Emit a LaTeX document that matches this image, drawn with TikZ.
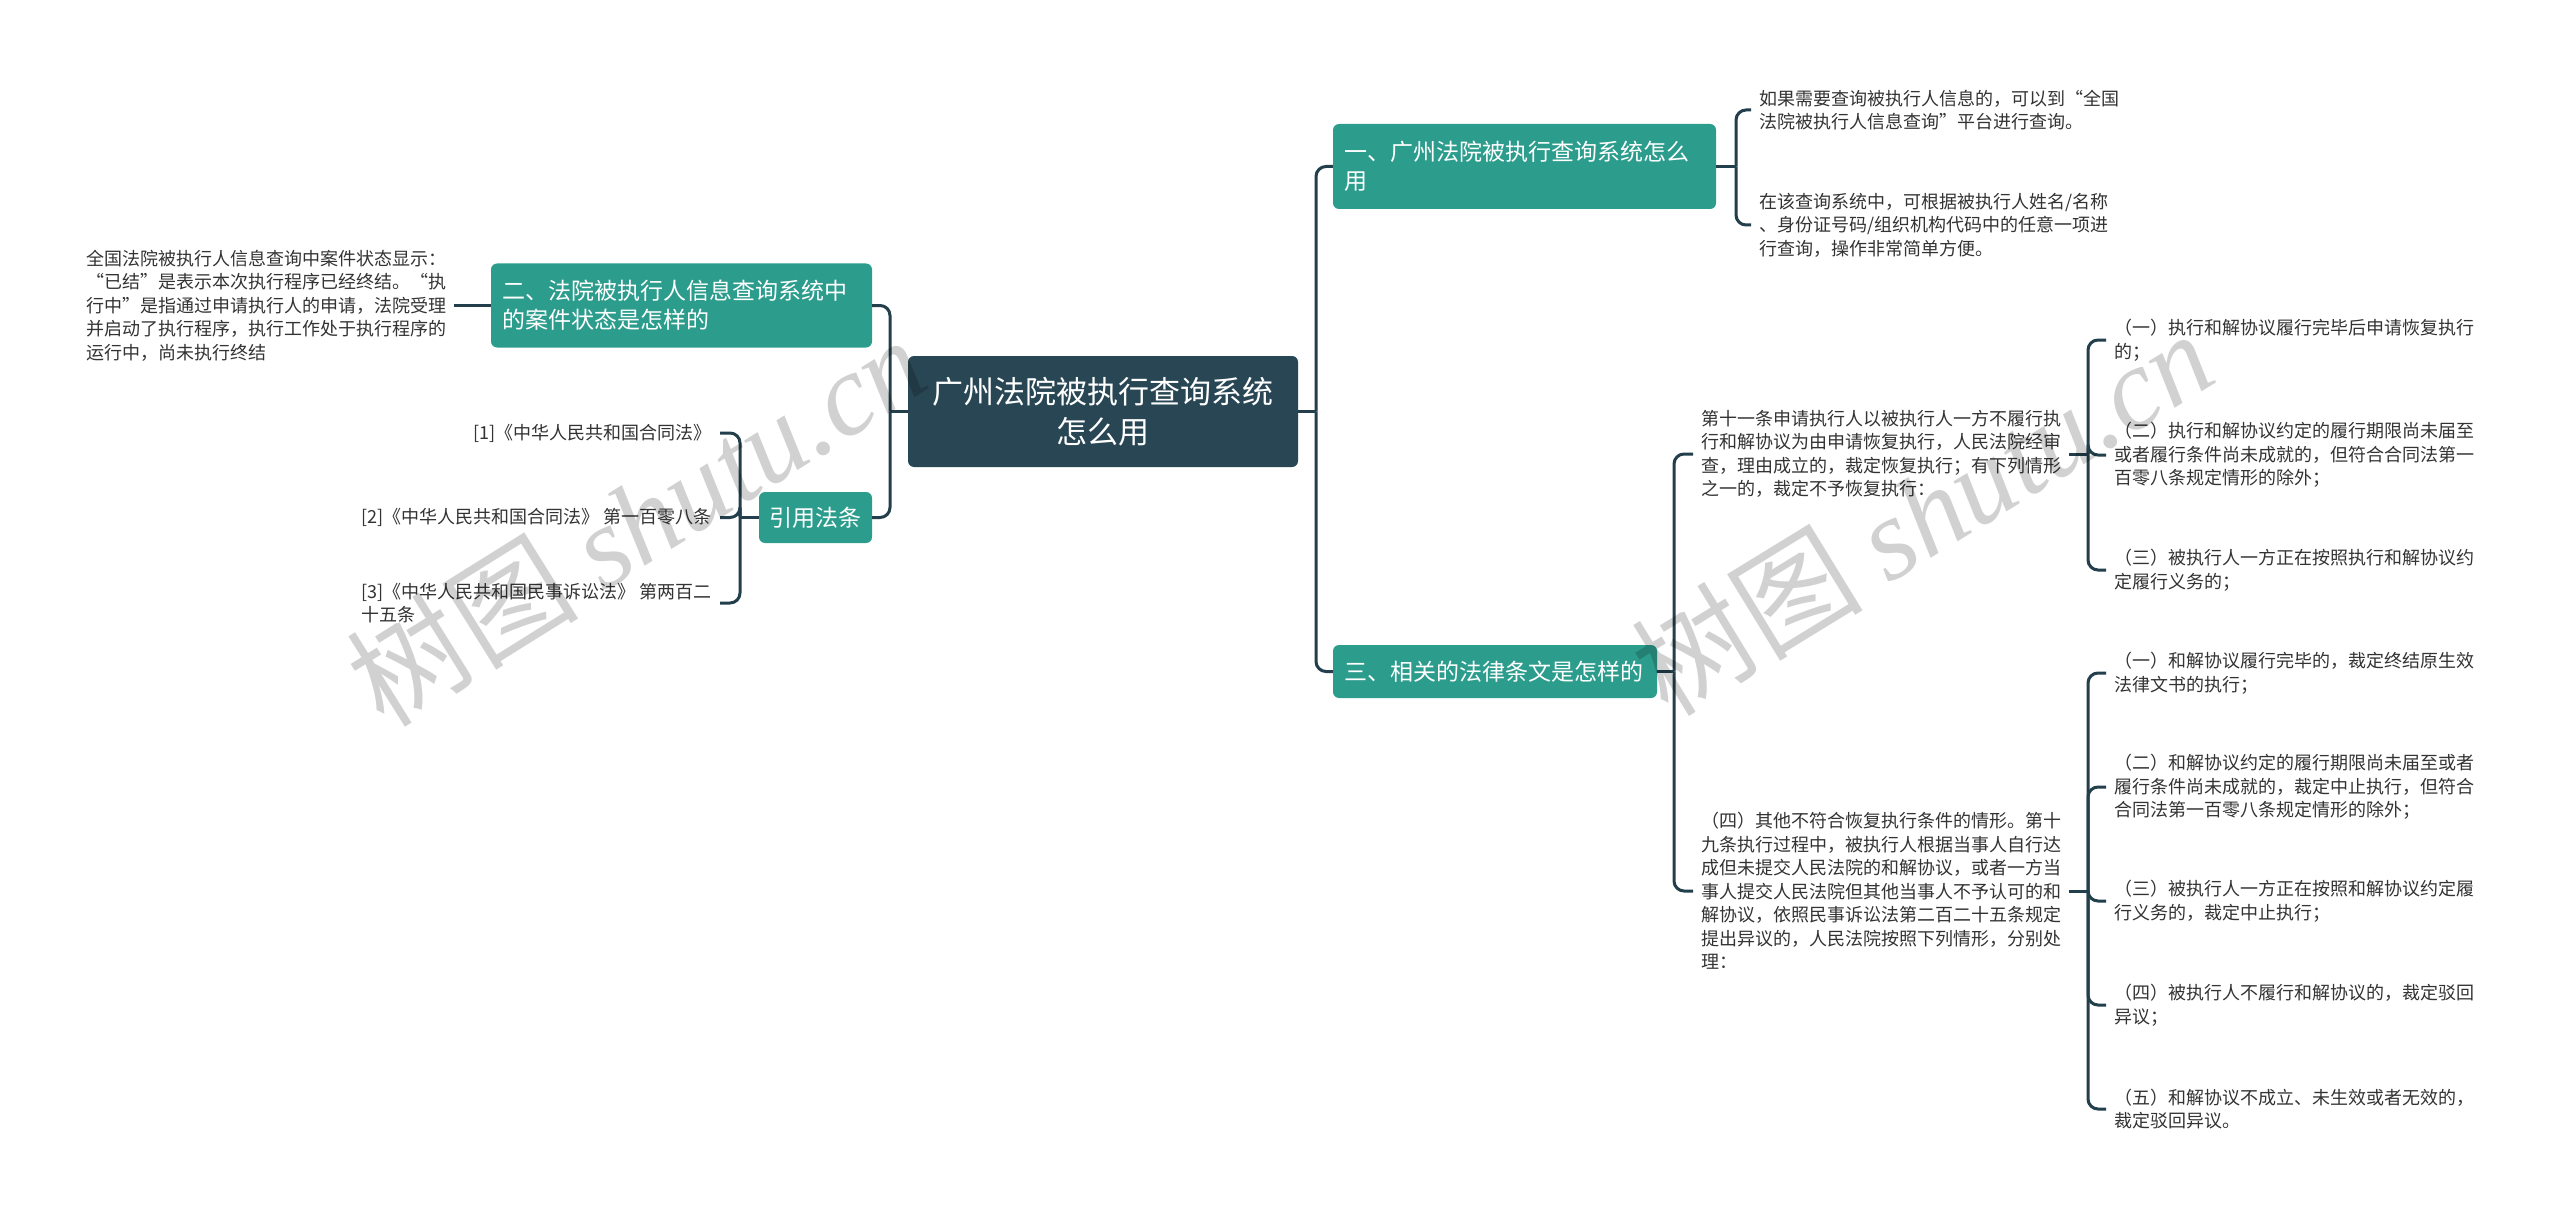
\documentclass[tikz,border=0pt]{standalone}
\usepackage{fontspec}
\setmainfont{Noto Sans CJK SC}
\newfontfamily\wmfont{Liberation Serif}
\definecolor{rootcol}{HTML}{284654}
\definecolor{topiccol}{HTML}{2C9D8D}
\definecolor{linecol}{HTML}{223F4B}
\definecolor{leafcol}{HTML}{333333}

\begin{document}
\begin{tikzpicture}[
    x=1pt, y=-1pt,
    % estilos de los nodos
    rootnode/.style={rectangle, rounded corners=6pt, fill=rootcol, text=white, align=center, inner sep=0pt, font=\fontsize{31}{40}\selectfont},
    topic/.style={rectangle, rounded corners=6pt, fill=topiccol, text=white, align=left, inner xsep=11pt, inner ysep=0pt, font=\fontsize{23}{29}\selectfont},
    leaf/.style={align=left, text=leafcol, inner xsep=8pt, inner ysep=0pt, font=\fontsize{18}{23.5}\selectfont},
    leafl/.style={leaf, anchor=west},
    leafr/.style={leaf, anchor=east},
    link/.style={-, draw=linecol, line width=3pt, rounded corners=10pt},
    watermark/.style={text=black, text opacity=0.18, inner sep=0pt, font=\fontsize{116}{116}\selectfont}
]
\useasboundingbox (0,0) rectangle (2560,1217);
\fill[white] (0,0) rectangle (2560,1217);

% --- NODO CENTRAL ---
\node[rootnode, minimum width=390pt, minimum height=111pt] (root) at (1103, 411.5) {广州法院被执行查询系统\\怎么用};

% --- RAMAS DERECHAS ---
\node[topic, text width=361pt, minimum height=85pt] (t1) at (1524.5, 166.5) {一、广州法院被执行查询系统怎么\\用};
\node[topic, text width=302pt, minimum height=53pt] (t3) at (1495, 671.5) {三、相关的法律条文是怎样的};

\coordinate (jr) at (1316, 411.5);
\draw[link] (root.east) -- (jr);
\draw[link] (jr) |- (t1.west);
\draw[link] (jr) |- (t3.west);

% hijos de t1
\node[leafl] (c1a) at (1751, 110) {如果需要查询被执行人信息的，可以到“全国\\法院被执行人信息查询”平台进行查询。};
\node[leafl] (c1b) at (1751, 225) {在该查询系统中，可根据被执行人姓名/名称\\、身份证号码/组织机构代码中的任意一项进\\行查询，操作非常简单方便。};

\coordinate (j1) at (1736, 166.5);
\draw[link] (t1.east) -- (j1);
\draw[link] (j1) |- (c1a.west);
\draw[link] (j1) |- (c1b.west);

% hijos de t3
\node[leafl] (ca) at (1693, 454) {第十一条申请执行人以被执行人一方不履行执\\行和解协议为由申请恢复执行，人民法院经审\\查，理由成立的，裁定恢复执行；有下列情形\\之一的，裁定不予恢复执行：};
\node[leafl] (cb) at (1693, 891) {（四）其他不符合恢复执行条件的情形。第十\\九条执行过程中，被执行人根据当事人自行达\\成但未提交人民法院的和解协议，或者一方当\\事人提交人民法院但其他当事人不予认可的和\\解协议，依照民事诉讼法第二百二十五条规定\\提出异议的，人民法院按照下列情形，分别处\\理：};

\coordinate (j3) at (1674, 671.5);
\draw[link] (t3.east) -- (j3);
\draw[link] (j3) |- (ca.west);
\draw[link] (j3) |- (cb.west);

% hijos de ca
\node[leafl] (ca1) at (2106, 340) {（一）执行和解协议履行完毕后申请恢复执行\\的；};
\node[leafl] (ca2) at (2106, 455) {（二）执行和解协议约定的履行期限尚未届至\\或者履行条件尚未成就的，但符合合同法第一\\百零八条规定情形的除外；};
\node[leafl] (ca3) at (2106, 570) {（三）被执行人一方正在按照执行和解协议约\\定履行义务的；};

\coordinate (ja) at (2088, 454);
\draw[link] (ca.east) -- (ja);
\draw[link] (ja) |- (ca1.west);
\draw[link] (ja) |- (ca2.west);
\draw[link] (ja) |- (ca3.west);

% hijos de cb
\node[leafl] (cb1) at (2106, 673) {（一）和解协议履行完毕的，裁定终结原生效\\法律文书的执行；};
\node[leafl] (cb2) at (2106, 787) {（二）和解协议约定的履行期限尚未届至或者\\履行条件尚未成就的，裁定中止执行，但符合\\合同法第一百零八条规定情形的除外；};
\node[leafl] (cb3) at (2106, 901) {（三）被执行人一方正在按照和解协议约定履\\行义务的，裁定中止执行；};
\node[leafl] (cb4) at (2106, 1005) {（四）被执行人不履行和解协议的，裁定驳回\\异议；};
\node[leafl] (cb5) at (2106, 1109) {（五）和解协议不成立、未生效或者无效的，\\裁定驳回异议。};

\coordinate (jb) at (2088, 891);
\draw[link] (cb.east) -- (jb);
\draw[link] (jb) |- (cb1.west);
\draw[link] (jb) |- (cb2.west);
\draw[link] (jb) |- (cb3.west);
\draw[link] (jb) |- (cb4.west);
\draw[link] (jb) |- (cb5.west);

% --- RAMAS IZQUIERDAS ---
\node[topic, text width=359pt, minimum height=84pt] (t2) at (681.5, 305.5) {二、法院被执行人信息查询系统中\\的案件状态是怎样的};
\node[topic, text width=92pt, inner xsep=10.5pt, minimum height=51pt] (tref) at (815.5, 517.5) {引用法条};

\coordinate (jl) at (890, 411.5);
\draw[link] (root.west) -- (jl);
\draw[link] (jl) |- (t2.east);
\draw[link] (jl) |- (tref.east);

% hijo de t2
\node[leafl] (c2) at (78, 305.5) {全国法院被执行人信息查询中案件状态显示：\\“已结”是表示本次执行程序已经终结。“执\\行中”是指通过申请执行人的申请，法院受理\\并启动了执行程序，执行工作处于执行程序的\\运行中，尚未执行终结};
\draw[link] (c2.east) -- (t2.west);

% hijos de tref
\node[leafr] (r1) at (720, 433) {[1]《中华人民共和国合同法》};
\node[leafr] (r2) at (720, 517.5) {[2]《中华人民共和国合同法》 第一百零八条};
\node[leafr] (r3) at (720, 603) {[3]《中华人民共和国民事诉讼法》 第两百二\\十五条};

\coordinate (jf) at (740, 517.5);
\draw[link] (tref.west) -- (jf);
\draw[link] (jf) |- (r1.east);
\draw[link] (jf) |- (r2.east);
\draw[link] (jf) |- (r3.east);

% --- MARCA DE AGUA ---
\node[watermark, rotate=32] (wm1) at (636, 520) {树图 {\wmfont\itshape shutu.cn}};
\node[watermark, rotate=31.5] (wm2) at (1922, 512) {树图 {\wmfont\itshape shutu.cn}};

\end{tikzpicture}
\end{document}
